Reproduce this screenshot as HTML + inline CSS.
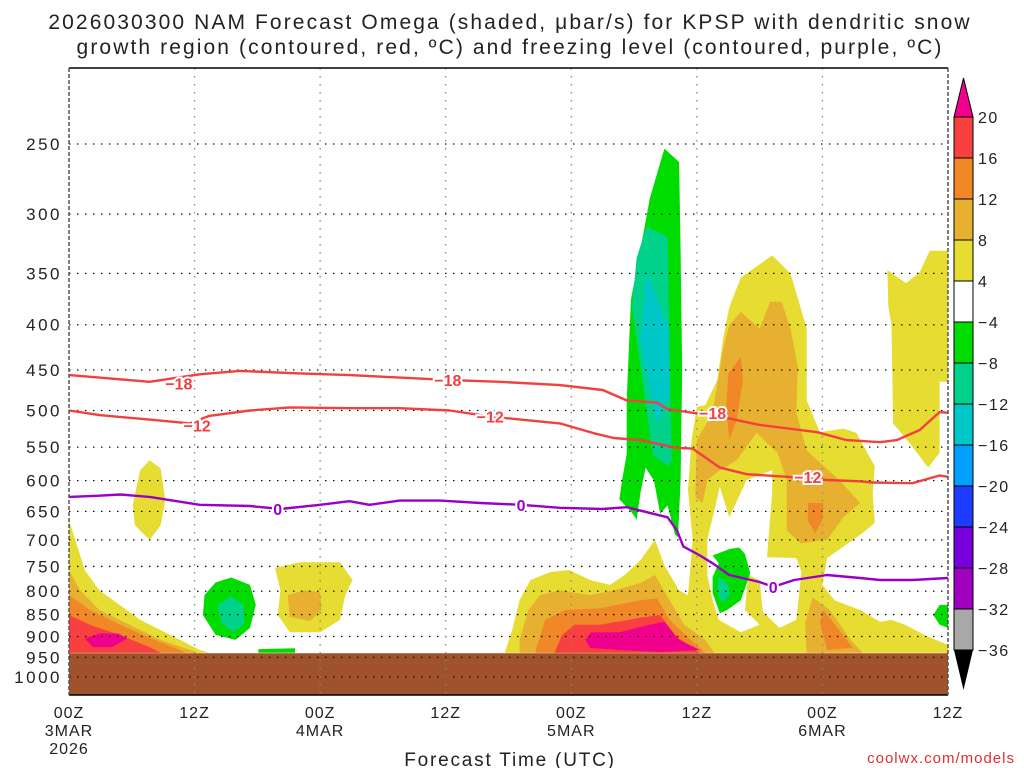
<!DOCTYPE html>
<html><head><meta charset="utf-8">
<style>
html,body{margin:0;padding:0;background:#fff;}
svg{display:block;font-family:"Liberation Sans",sans-serif;}
</style></head>
<body>
<svg id="chart" width="1024" height="768" viewBox="0 0 1024 768" xmlns="http://www.w3.org/2000/svg">
<rect x="0" y="0" width="1024" height="768" fill="#fff"/>
<text x="510" y="29" text-anchor="middle" font-size="21" letter-spacing="2.1" fill="#222">2026030300 NAM Forecast Omega (shaded, μbar/s) for KPSP with dendritic snow</text>
<text x="510" y="54" text-anchor="middle" font-size="21" letter-spacing="2.1" fill="#222">growth region (contoured, red, ºC) and freezing level (contoured, purple, ºC)</text>
<g id="plot"></g>
<g id="cbar"></g>
<text x="510" y="766" text-anchor="middle" font-size="19" letter-spacing="1.8" fill="#222">Forecast Time (UTC)</text>
<text x="1015" y="763" text-anchor="end" font-size="15" fill="#e03030" letter-spacing="1">coolwx.com/models</text>
</svg>
<script>
// ---- data ----
const pressureTicks = [250,300,350,400,450,500,550,600,650,700,750,800,850,900,950,1000];
const timeTickHours = [0,12,24,36,48,60,72,84];
const timeTickLabels = ["00Z","12Z","00Z","12Z","00Z","12Z","00Z","12Z"];
const timeTickLabels2 = ["3MAR","","4MAR","","5MAR","","6MAR",""];
const cbarLevels = [20,16,12,8,4,-4,-8,-12,-16,-20,-24,-28,-32,-36];
const cbarColors = ["#f84040","#f08828","#e8b030","#e6dc32","#ffffff","#00dc00","#00d28c","#00c8c8","#00a0ff","#1e3cff","#7800dc","#a000c0","#a8a8a8"];
const groundPressure = 940;

// shaded omega regions: [forecast hour, hPa]
const yellowLeft = [[0,665],[0.6,700],[1.5,757],[2.9,798],[4.9,830],[6.8,862],[8.75,885],[10.6,908],[12.5,932],[13.4,939],[0,939]];
const ltOrangeLeft = [[0,757],[1.05,798],[2.9,840],[5.8,873],[8.75,908],[11.55,932],[12.25,939],[0,939]];
const orangeLeft = [[0,808],[2,840],[4.9,873],[7.7,903],[10.6,932],[11.1,939],[0,939]];
const redLeft = [[0,851],[2,873],[4.9,897],[7.7,925],[8.75,939],[0,939]];
const magentaLeft = [[1.5,905],[2.9,893],[4.7,893],[5.6,905],[4.1,925],[2.3,925]];
const yellowSmall = [[6.1,639],[6.8,584],[7.7,569],[8.75,581],[9.2,631],[8.75,674],[7.7,700],[6.3,674]];
const greenBlob1 = [[12.95,808],[14,782],[15.5,772],[17.3,787],[17.85,829],[17.3,880],[15.9,908],[14,896],[12.8,851]];
const tealBlob1 = [[14.2,830],[15.5,810],[16.7,830],[16.7,870],[15.75,890],[14.6,870]];
const yellowMid = [[19.7,753],[22.05,742],[25.9,742],[27.1,777],[26.4,808],[25.9,862],[24,890],[21.1,890],[19.95,851],[20.2,798]];
const ltOrangeMid = [[20.9,808],[22.5,798],[24,802],[24.15,840],[23,865],[21.1,855]];
const greenStrip = [[18.1,930],[21.6,928],[21.6,939],[18.1,939]];
const yellowRight = [[41.65,939],[42.35,885],[43.05,819],[44.1,777],[46,761],[47.8,757],[49.8,777],[51.7,787],[53.1,767],[54.6,738],[56,700],[56.9,748],[58.3,798],[59.15,808],[59.6,700],[59.15,615],[59.5,540],[60,495],[60.8,493],[61.95,462],[62.5,416],[63.1,382],[64.2,354],[67.2,334],[68.95,350],[70.5,404],[70.5,487],[71.75,529],[74,524],[75.25,530],[77,578],[76.8,620],[77,670],[75.8,688],[72.45,734],[72,787],[73.15,819],[75.6,840],[77.5,866],[78.6,862],[79.9,873],[81.8,897],[84,920],[84,939]];
const whiteHole = [[61,767],[61,700],[62.2,610],[63.1,660],[64.75,599],[67.2,584],[67.2,620],[66.7,732],[69.5,734],[70,761],[69.5,862],[67.9,880],[66.3,844],[66,777],[64.9,767],[64.6,840],[66,873],[64.2,890],[62.1,862],[61.5,819]];
const yellowTopRight = [[78.2,347],[80,359],[81.3,349],[82.25,330],[84,330],[84,464],[83.2,464],[83.2,558],[82.1,580],[80.6,549],[78.75,517],[78.6,400],[78.3,382]];
const ltOrangeColumn = [[64.2,387],[66,404],[67,377],[68.1,377],[68.95,404],[69.65,447],[69.5,503],[70.5,555],[73.6,599],[75.6,636],[74,660],[72.45,700],[69.9,706],[68.6,683],[68.6,599],[67.7,558],[65.7,530],[63.8,569],[62.2,584],[61,599],[60.55,636],[59.85,626],[60,540],[61.5,503],[62.5,427],[63.1,400]];
const orangeColumn = [[64.2,435],[64.4,462],[63.8,513],[63.1,540],[62.8,495],[63,454]];
const orangeColumn2 = [[70.6,636],[72.1,636],[72,665],[71.3,688],[70.6,665]];
const ltOrange6Mar = [[71.05,813],[72.7,840],[74.7,908],[75.6,932],[75.8,939],[70.5,939],[70.35,869]];
const orange6Mar = [[72.1,840],[73.6,885],[74.9,927],[72.45,932],[71.75,869]];
const ltOrange5Mar = [[43.05,908],[43.9,840],[45,808],[46.9,798],[49.8,808],[52.15,798],[54.6,783],[56,767],[57.4,819],[58.8,873],[60.8,908],[61.7,939],[43.05,939]];
const orange5Mar = [[44.6,932],[45.5,862],[47.4,840],[50.75,836],[54.6,819],[56.2,815],[57.4,862],[59.4,908],[60.8,939],[44.6,939]];
const red5Mar = [[46.4,939],[47.1,897],[48.3,873],[50.75,873],[54.6,857],[56.5,851],[57.9,897],[59.85,932],[60.3,939]];
const magenta5Mar = [[49.35,908],[49.9,890],[52.6,890],[55.5,873],[56.9,866],[58.3,908],[60.3,932],[56.5,937],[52.6,932],[49.8,927]];
const greenColumn = [[56.9,253],[58.3,262],[58.45,330],[58.6,450],[58.45,600],[58.2,695],[57.9,690],[57.2,640],[56.5,654],[55.9,600],[55.1,580],[54.6,620],[54.25,664],[53.7,650],[52.6,630],[52.85,600],[53.3,560],[53.3,487],[53.7,375],[54.6,329],[55.5,288]];
const tealColumn = [[55.2,310],[57.2,318],[57.6,569],[57.2,578],[55.8,561],[53.8,381],[54.25,336]];
const cyanColumn = [[55.2,349],[57.3,403],[57.4,478],[56.2,518],[54.6,416]];
const greenBlob2 = [[61.5,729],[63.1,717],[64.05,714],[64.6,726],[65.1,763],[64.6,794],[64.2,819],[62.9,840],[62.2,847],[61.5,804],[61.5,771],[62.1,744]];
const tealBlob2 = [[62.1,771],[63,785],[63.1,810],[62.4,825],[61.95,800]];
const greenRight = [[82.6,851],[83.2,829],[84,829],[84,880],[83.2,873]];

// contours
const m18Hours = [0,2.9,7.7,12.5,16.3,22.05,26.8,31.6,36.4,41.2,46.9,51,53.3,56.2,57.2,59.6,62.9,66,71.5,74.3,77.5,79.1,81.3,83.2,84];
const m18Press = [456,459,464,455,451,454,456,459,462,464,468,474,487,490,498,503,510,519,529,540,543,540,526,502,503];
const m12Hours = [0,2.9,7.7,11.55,13.4,17.3,21.1,26.8,31.6,36.4,40.25,46.9,50.05,52.03,54.6,58.1,59.6,62.2,64.75,68.6,72.45,75.6,76.8,80.6,83.2,84];
const m12Press = [500,506,512,517,507,500,496,497,497,500,508,517,530,537,540,551,552,580,590,594,599,601,603,604,592,594];
const zeroHours = [0,2.9,4.9,7.7,12.5,17.3,20.2,24,26.8,28.7,31.6,35.5,39.3,43.2,46.9,51,53.3,57.2,58.1,58.7,60.3,61.5,63.1,66,67.3,69.3,72.45,75.6,77.5,80.6,84];
const zeroPress = [626,624,622,626,639,641,646,639,633,639,632,632,636,639,644,646,643,660,683,712,729,744,767,781,791,777,767,773,777,777,773];
const labelsM18 = [[10.5,466],[36.2,462],[61.5,503]];
const labelsM12 = [[12.25,520],[40.25,508],[70.6,594]];
const labelsZero = [[19.95,646],[43.2,639],[67.3,791]];

// ---- scales ----
const X0=69, X1=948, YT=68, YB=695, HMAX=84;
function xs(h){ return X0 + h*(X1-X0)/HMAX; }
function ys(p){ return 144 + 384.5*Math.log(p/250); }
const NS="http://www.w3.org/2000/svg";
const plot=document.getElementById('plot');
const cbar=document.getElementById('cbar');
function mk(tag, attrs, parent){
  const e=document.createElementNS(NS,tag);
  for(const k in attrs) e.setAttribute(k, attrs[k]);
  (parent||plot).appendChild(e);
  return e;
}
const defs=mk('defs',{});
const cp=mk('clipPath',{id:'pc'},defs);
mk('rect',{x:X0,y:YT,width:X1-X0,height:YB-YT},cp);
const sh=mk('g',{'clip-path':'url(#pc)'});


const Y="#e6dc32", LO="#e8b030", OR="#f08828", RD="#f84040", MG="#f0008c", GR="#00dc00", TL="#00d28c", CY="#00c8c8";
function P(pts,c,n){ const e=document.createElementNS(NS,'polygon'); e.setAttribute('points',pts.map(q=>xs(q[0]).toFixed(1)+','+ys(q[1]).toFixed(1)).join(' ')); e.setAttribute('fill',c);
  
  
  sh.appendChild(e); }
P(yellowLeft,Y,'omega-yellow-left'); P(ltOrangeLeft,LO,'omega-ltorange-left'); P(orangeLeft,OR,'omega-orange-left'); P(redLeft,RD,'omega-red-left'); P(magentaLeft,MG,'omega-magenta-left');
P(yellowSmall,Y,'omega-yellow-small');
P(yellowMid,Y,'omega-yellow-mid'); P(ltOrangeMid,LO,'omega-ltorange-mid');
P(yellowRight,Y,'omega-yellow-right'); P(whiteHole,"#ffffff",'omega-neutral-hole'); P(yellowTopRight,Y,'omega-yellow-top-right');
P(ltOrangeColumn,LO,'omega-ltorange-column'); P(orangeColumn,OR,'omega-orange-column'); P(orangeColumn2,OR,'omega-orange-column-2');
P(ltOrange6Mar,LO,'omega-ltorange-6mar'); P(orange6Mar,OR,'omega-orange-6mar');
P(ltOrange5Mar,LO,'omega-ltorange-5mar'); P(orange5Mar,OR,'omega-orange-5mar'); P(red5Mar,RD,'omega-red-5mar'); P(magenta5Mar,MG,'omega-magenta-5mar');
P(greenBlob1,GR,'omega-green-blob-1'); P(tealBlob1,TL,'omega-teal-blob-1'); P(greenStrip,GR,'omega-green-strip');
P(greenColumn,GR,'omega-green-column'); P(tealColumn,TL,'omega-teal-column'); P(cyanColumn,CY,'omega-cyan-column');
P(greenBlob2,GR,'omega-green-blob-2'); P(tealBlob2,TL,'omega-teal-blob-2'); P(greenRight,GR,'omega-green-right');
// ground
const g=mk('rect',{x:X0,y:ys(groundPressure),width:X1-X0,height:YB-ys(groundPressure),fill:'#a0522d'});


// grid
pressureTicks.forEach(p=>{
  const l=mk('line',{x1:X0,x2:X1,y1:ys(p),y2:ys(p),stroke:'#111','stroke-width':1.3,'stroke-dasharray':'1.5 6.5'});
  
  
  const t=mk('text',{x:62,y:ys(p)+6,'text-anchor':'end','font-size':17,'letter-spacing':2.5,fill:'#222'});
  t.textContent=p;
  
  
});
timeTickHours.forEach((h,i)=>{
  if(h>0 && h<HMAX){
    const l=mk('line',{x1:xs(h),x2:xs(h),y1:YT,y2:YB,stroke:'#888','stroke-width':1.3,'stroke-dasharray':'1.5 6.5'});
    
    
  }
  const t=mk('text',{x:xs(h),y:718,'text-anchor':'middle','font-size':16,'letter-spacing':1,fill:'#222'});
  t.textContent=timeTickLabels[i];
  
  
  if(timeTickLabels2[i]){
    const t2=mk('text',{x:xs(h),y:736,'text-anchor':'middle','font-size':16,'letter-spacing':1,fill:'#222'});
    t2.textContent=timeTickLabels2[i];
    
    
  }
});
const yr=mk('text',{x:xs(0),y:754,'text-anchor':'middle','font-size':16,'letter-spacing':1,fill:'#222'});
yr.textContent='2026';


// contours
function line(hs,ps,color,name){
  const e=mk('polyline',{points:hs.map((h,i)=>xs(h).toFixed(1)+','+ys(ps[i]).toFixed(1)).join(' '),fill:'none',stroke:color,'stroke-width':2.4,'stroke-linejoin':'round'});
  
  
}
line(m18Hours,m18Press,'#f04040','contour-minus-18');
line(m12Hours,m12Press,'#f04040','contour-minus-12');
line(zeroHours,zeroPress,'#9a00c8','freezing-level-contour');
function lab(arr,txt,color){
  arr.forEach(q=>{
    const t=mk('text',{x:xs(q[0]),y:ys(q[1])+6,'text-anchor':'middle','font-size':16,'font-weight':'bold',fill:color,stroke:'#fff','stroke-width':4,'paint-order':'stroke'});
    t.textContent=txt;
    
    
  });
}
lab(labelsM18,'−18','#f04040'); lab(labelsM12,'−12','#f04040'); lab(labelsZero,'0','#9a00c8');
// frame
const f1=mk('line',{x1:X0,x2:X1,y1:YT,y2:YT,stroke:'#000','stroke-width':1.5});
 
const f2=mk('line',{x1:X0,x2:X1,y1:YB,y2:YB,stroke:'#000','stroke-width':1.5});
 
const f3=mk('line',{x1:X0,x2:X0,y1:YT,y2:YB,stroke:'#555','stroke-width':1.5,'stroke-dasharray':'4 2'});
 
const f4=mk('line',{x1:X1,x2:X1,y1:YT,y2:YB,stroke:'#555','stroke-width':1.5,'stroke-dasharray':'4 2'});
 
// colorbar
const CX=954, CW=19, CT=117, CB=650, step=(CB-CT)/(cbarLevels.length-1);
cbarColors.forEach((c,i)=>{
  const r=mk('rect',{x:CX,y:CT+i*step,width:CW,height:step,fill:c,stroke:'#000','stroke-width':1},cbar);
  
  
});
const tu=mk('polygon',{points:`${CX},${CT} ${CX+CW},${CT} ${CX+CW/2},78`,fill:'#f0008c',stroke:'#000','stroke-width':1},cbar);
 
const td=mk('polygon',{points:`${CX},${CB} ${CX+CW},${CB} ${CX+CW/2},690`,fill:'#000'},cbar);
 
cbarLevels.forEach((v,i)=>{
  const t=mk('text',{x:978,y:CT+i*step+6,'font-size':16,'letter-spacing':1.5,fill:'#222'},cbar);
  t.textContent=(v<0?'−':'')+Math.abs(v);
  
  
});
</script>
</body></html>
